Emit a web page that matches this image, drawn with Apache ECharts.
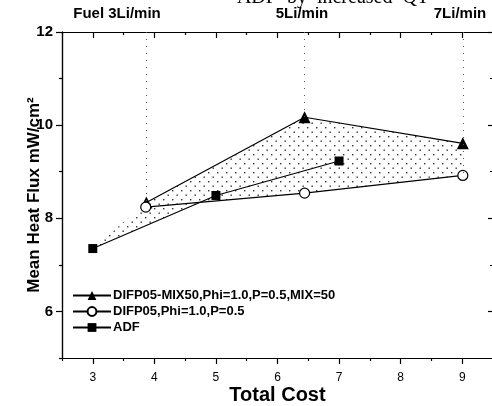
<!DOCTYPE html>
<html><head><meta charset="utf-8">
<script src="https://cdn.jsdelivr.net/npm/echarts@6/dist/echarts.min.js"></script>
<style>html,body{margin:0;padding:0;background:#fff}#c{width:492px;height:406px}</style>
</head><body><div id="c"></div>
<script>
// ---- data ----
var triX = [3.87, 6.44, 9.01];
var triY = [8.34, 10.17, 9.61];
var circX = [3.86, 6.44, 9.01];
var circY = [8.24, 8.54, 8.92];
var adfX = [3.0, 5.0, 7.0];
var adfY = [7.35, 8.49, 9.23];
var seriesNames = ['DIFP05-MIX50,Phi=1.0,P=0.5,MIX=50', 'DIFP05,Phi=1.0,P=0.5', 'ADF'];
var xMajor = [3, 4, 5, 6, 7, 8, 9];
var xMinor = [2.5, 3.5, 4.5, 5.5, 6.5, 7.5, 8.5, 9.5];
var yMajor = [6, 8, 10, 12];
var yMinor = [5, 7, 9, 11];
var topLabels = ['Fuel 3Li/min', '5Li/min', '7Li/min'];

function pairs(xs, ys) { return xs.map(function (x, i) { return [x, ys[i]]; }); }
var triData = pairs(triX, triY), circData = pairs(circX, circY), adfData = pairs(adfX, adfY);

// intersection of first ADF segment and first circle segment (lower envelope)
function intersect(p1, p2, p3, p4) {
  var d = (p1[0] - p2[0]) * (p3[1] - p4[1]) - (p1[1] - p2[1]) * (p3[0] - p4[0]);
  var a = p1[0] * p2[1] - p1[1] * p2[0], b = p3[0] * p4[1] - p3[1] * p4[0];
  return [(a * (p3[0] - p4[0]) - (p1[0] - p2[0]) * b) / d, (a * (p3[1] - p4[1]) - (p1[1] - p2[1]) * b) / d];
}
var ip = intersect(adfData[0], adfData[1], circData[0], circData[1]);
var polyPts = [adfData[0]].concat(triData).concat([circData[2], circData[1], ip]);

// dotted pattern
var pc = document.createElement('canvas');
pc.width = 9; pc.height = 9;
var pctx = pc.getContext('2d');
pctx.fillStyle = '#333';
pctx.fillRect(1, 1, 1.4, 1.4);
pctx.fillRect(5.5, 5.5, 1.4, 1.4);

var chart = echarts.init(document.getElementById('c'));
var FF = 'Liberation Sans, Arial, sans-serif';
function xAx(pos, ticks, len, inside, labels) {
  return {
    type: 'value', position: pos, min: 2.5, max: 9.5, gridIndex: 0,
    axisLine: { show: true, lineStyle: { color: '#000', width: 1.2 } },
    axisTick: { show: true, inside: inside, length: len, customValues: ticks, lineStyle: { color: '#000', width: 1.2 } },
    axisLabel: labels ? { show: true, customValues: ticks, fontSize: 12, margin: 14, color: '#000', fontFamily: FF } : { show: false },
    splitLine: { show: false }
  };
}
function yAx(pos, ticks, len, inside, labels) {
  return {
    type: 'value', position: pos, min: 5, max: 12, gridIndex: 0,
    axisLine: { show: true, lineStyle: { color: '#000', width: 1.2 } },
    axisTick: { show: true, inside: inside, length: len, customValues: ticks, lineStyle: { color: '#000', width: 1.2 } },
    axisLabel: labels ? { show: true, customValues: ticks, fontSize: 15, fontWeight: 'bold', margin: 9, color: '#000', fontFamily: FF } : { show: false },
    splitLine: { show: false }
  };
}
var xAxes = [xAx('bottom', xMajor, 6, false, true), xAx('bottom', xMinor, 3, false, false),
             xAx('top', xMajor, 6, true, false), xAx('top', xMinor, 3, true, false)];
xAxes[0].name = 'Total Cost';
xAxes[0].nameLocation = 'middle';
xAxes[0].nameGap = 27;
xAxes[0].nameMoveOverlap = false;
xAxes[0].nameTextStyle = { fontSize: 20, fontWeight: 'bold', color: '#000', fontFamily: FF };
var yAxes = [yAx('left', yMajor, 6, false, true), yAx('left', yMinor, 3, false, false),
             yAx('right', yMajor, 5, true, false), yAx('right', yMinor, 3, true, false)];
yAxes[0].name = 'Mean Heat Flux mW/cm²';
yAxes[0].nameLocation = 'middle';
yAxes[0].nameGap = 19;
yAxes[0].nameMoveOverlap = false;
yAxes[0].nameTextStyle = { fontSize: 17, fontWeight: 'bold', color: '#000', fontFamily: FF };

var topLabelX = [117, 302, 460];
var graphics = topLabels.map(function (t, i) {
  return { type: 'text', x: topLabelX[i], y: 14, style: { text: t, fill: '#000', font: 'bold 15px Liberation Sans, Arial, sans-serif', align: 'center', verticalAlign: 'middle' } };
});
graphics.push({ type: 'text', x: 333, y: 8, style: { text: 'ADF  by  increased  QT', fill: '#000', font: '20px Liberation Serif, Times New Roman, serif', align: 'center', verticalAlign: 'bottom' } });

chart.setOption({
  animation: false,
  backgroundColor: '#fff',
  grid: { left: 62, right: -1, top: 32, bottom: 48, containLabel: false, outerBoundsMode: 'none' },
  xAxis: xAxes,
  yAxis: yAxes,
  graphic: graphics,
  legend: {
    left: 67, top: 284, orient: 'vertical', itemGap: 3, itemWidth: 38, itemHeight: 11,
    data: seriesNames,
    textStyle: { fontSize: 13, fontWeight: 'bold', color: '#000', fontFamily: FF, padding: [0, 0, 0, -3] }
  },
  series: [
    {
      type: 'custom', silent: true, z: 1,
      data: [0],
      renderItem: function (params, api) {
        var pts = polyPts.map(function (p) { return api.coord(p); });
        return { type: 'polygon', shape: { points: pts }, style: { fill: { image: pc, repeat: 'repeat' }, stroke: null } };
      }
    },
    {
      name: seriesNames[0], type: 'line', data: triData, z: 3,
      symbol: 'triangle', symbolSize: 12,
      itemStyle: { color: '#000' }, lineStyle: { color: '#000', width: 1.2 },
      markLine: {
        silent: true, symbol: 'none', label: { show: false },
        lineStyle: { color: '#555', type: [1, 6], width: 1 },
        data: [
          [{ coord: [triX[0], 12] }, { coord: [triX[0], triY[0]] }],
          [{ coord: [triX[1], 12] }, { coord: [triX[1], triY[1]] }],
          [{ coord: [triX[2], 12] }, { coord: [triX[2], circY[2]] }]
        ]
      }
    },
    {
      name: seriesNames[1], type: 'line', data: circData, z: 3,
      symbol: 'circle', symbolSize: 10,
      itemStyle: { color: '#fff', borderColor: '#000', borderWidth: 1.2 }, lineStyle: { color: '#000', width: 1.2 }
    },
    {
      name: seriesNames[2], type: 'line', data: adfData, z: 3,
      symbol: 'rect', symbolSize: 9,
      itemStyle: { color: '#000' }, lineStyle: { color: '#000', width: 1.2 }
    }
  ]
});
</script></body></html>
